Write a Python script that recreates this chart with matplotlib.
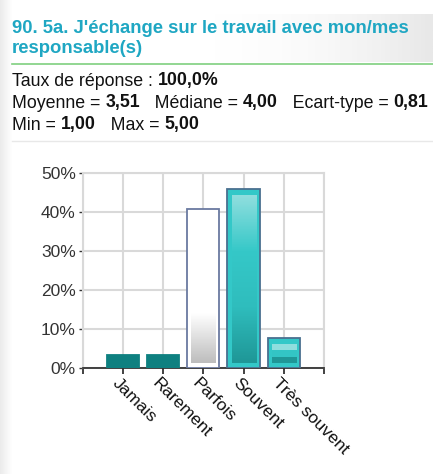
import numpy as np
import matplotlib.pyplot as plt
from matplotlib.colors import LinearSegmentedColormap

categories = ["Jamais", "Rarement", "Parfois", "Souvent", "Très souvent"]
values = [3.4, 3.4, 40.7, 45.8, 7.6]
yticks = [0, 10, 20, 30, 40, 50]

title = "90. 5a. J'échange sur le travail avec mon/mes\nresponsable(s)"
stats = [
    [("Taux de réponse : ", False), ("100,0%", True)],
    [("Moyenne = ", False), ("3,51", True), ("   Médiane = ", False), ("4,00", True),
     ("   Ecart-type = ", False), ("0,81", True)],
    [("Min = ", False), ("1,00", True), ("   Max = ", False), ("5,00", True)],
]

plt.rcParams['font.family'] = ['Liberation Sans', 'DejaVu Sans']

W, H = 433, 474
fig = plt.figure(figsize=(W / 100, H / 100), dpi=100, facecolor="white")

# header shading
bg = fig.add_axes([0, 0, 1, 1], zorder=-5)
bg.set_xlim(0, W)
bg.set_ylim(H, 0)
bg.axis("off")
shade = np.linspace(0, 1, 200)[None, :] ** 2
gray_cm = LinearSegmentedColormap.from_list("g", ["#ffffff", "#dedede"])
bg.imshow(shade, extent=[200, W, 62, 14], cmap=gray_cm, aspect="auto", alpha=0.7)
bg.imshow(np.linspace(1, 0, 50)[None, :], extent=[0, 12, H, 0], cmap=gray_cm,
          aspect="auto", alpha=0.6)
bg.plot([12, W], [64, 64], color="#7fd07f", lw=1.2)
bg.plot([12, W], [141, 141], color="#e8e8e8", lw=1)

fig.text(12 / W, 1 - 20 / H, title, color="#1fa7c3", fontsize=13.3, fontweight="bold",
         va="top", ha="left", linespacing=1.22)

fig.canvas.draw()
renderer = fig.canvas.get_renderer()
line_y = [81, 103, 125]
for parts, y in zip(stats, line_y):
    x = 12
    for txt, bold in parts:
        t = fig.text(x / W, 1 - y / H, txt, fontsize=12.8, color="#111111",
                     fontweight="bold" if bold else "normal", va="center", ha="left")
        bb = t.get_window_extent(renderer)
        x += bb.width

ax = fig.add_axes([82.7 / W, 1 - 368 / H, (324 - 82.7) / W, (368 - 172.7) / H])
pos = np.arange(1, len(categories) + 1)
face = ["#0e8080", "#0e8080", "#ffffff", "#33c8c8", "#33c8c8"]
edge = ["#0e8080", "#0e8080", "#6a7aa0", "#4a7090", "#4a7090"]
bw = 0.8
ax.bar(pos, values, width=bw, color=face, edgecolor=edge, linewidth=1.3, zorder=3)

# inner gradients
g_parfois = LinearSegmentedColormap.from_list("p", ["#bdbdbd", "#ffffff"])
g_souvent = LinearSegmentedColormap.from_list("s", ["#1f9797", "#2fbdbd", "#35c8c8", "#8fdede"])
grad = np.linspace(0, 1, 100)[:, None]
ax.imshow(grad, extent=[pos[2] - 0.3, pos[2] + 0.3, 1.2, 14], origin="lower",
          cmap=g_parfois, aspect="auto", zorder=4)
ax.imshow(grad, extent=[pos[3] - 0.3, pos[3] + 0.3, 1.2, values[3] - 1.6], origin="lower",
          cmap=g_souvent, aspect="auto", zorder=4)
stripe = np.array([[0.0], [0.0], [0.6], [0.6], [1.0], [1.0]])
ax.imshow(stripe, extent=[pos[4] - 0.3, pos[4] + 0.3, 1.2, values[4] - 1.6], origin="lower",
          cmap=g_souvent, aspect="auto", zorder=4)

ax.set_xlim(0, 6)
ax.set_ylim(0, 50)
ax.set_xticks(np.arange(0, 7))
ax.set_xticklabels([])
ax.set_yticks(yticks)
ax.set_yticklabels([f"{v}%" for v in yticks], fontsize=12.5, color="#333333")
ax.grid(True, color="#d9d9d9", lw=1.5, zorder=0)
ax.set_axisbelow(True)
for s in ["top", "right", "left"]:
    ax.spines[s].set_color("#d9d9d9")
    ax.spines[s].set_linewidth(1.5)
ax.spines["bottom"].set_color("#333333")
ax.spines["bottom"].set_linewidth(1.3)
ax.tick_params(axis="x", length=4, width=1.3, color="#333333")
ax.tick_params(axis="y", length=3, width=1.0, color="#333333", pad=2)

for p, c in zip(pos, categories):
    ax.annotate(c, xy=(p, 0), xycoords="data", xytext=(-6, -9), textcoords="offset points",
                rotation=-45, rotation_mode="anchor", ha="left", va="center",
                fontsize=12.5, color="#111111")

fig.savefig("out.png", dpi=100, facecolor="white")
